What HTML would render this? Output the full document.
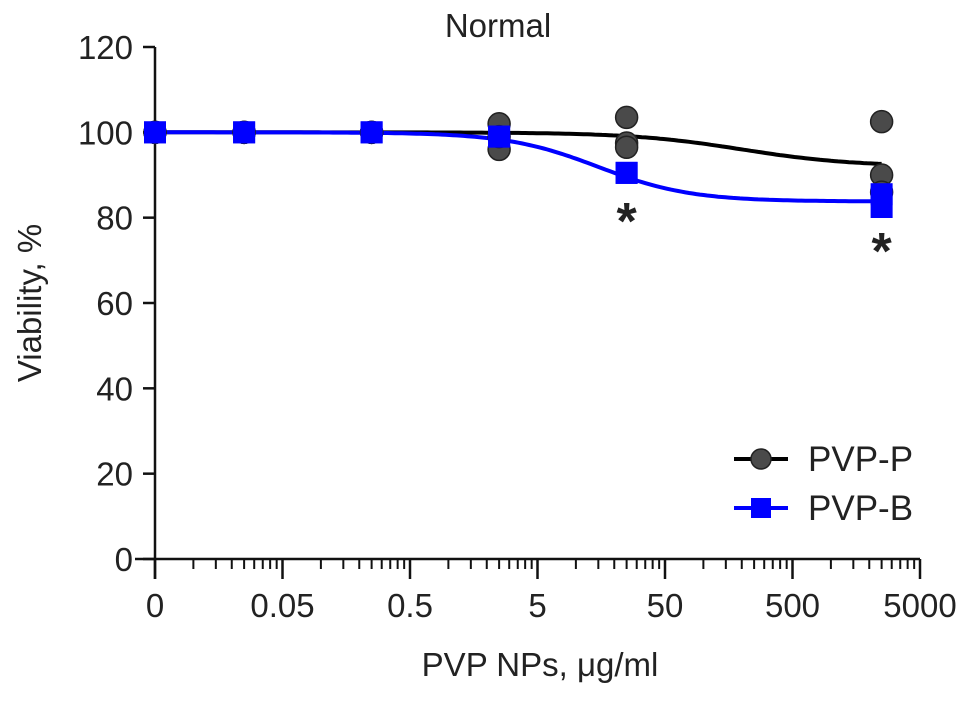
<!DOCTYPE html>
<html><head><meta charset="utf-8"><style>
body{margin:0;background:#fff}
svg text{font-family:"Liberation Sans",sans-serif;fill:#222}
</style></head><body>
<svg id="chart" width="969" height="696" viewBox="0 0 969 696">
<text x="498" y="37" font-size="33" text-anchor="middle">Normal</text>
<text transform="translate(41,303) rotate(-90)" font-size="33" text-anchor="middle">Viability, %</text>
<text x="540" y="676" font-size="33" text-anchor="middle">PVP NPs, μg/ml</text>
<g id="axes"></g>
<g id="curves"></g>
<g id="points"></g>
<g id="legend">
<line x1="734" y1="459" x2="788" y2="459" stroke="#000" stroke-width="4"/>
<circle cx="761" cy="459" r="10" fill="#4a4a4a" stroke="#222" stroke-width="1.5"/>
<text x="808" y="471" font-size="35">PVP-P</text>
<line x1="734" y1="508" x2="788" y2="508" stroke="#0000ff" stroke-width="4"/>
<rect x="751" y="498" width="20" height="20" fill="#0000ff"/>
<text x="808" y="520" font-size="35">PVP-B</text>
</g>
</svg>
<script>
const xTickValues=[0.005,0.05,0.5,5,50,500,5000];
const xTickLabels=["0","0.05","0.5","5","50","500","5000"];
const yTickValues=[0,20,40,60,80,100,120];
const doses=[0.005,0.025,0.25,2.5,25,2500];
const pvpP=[[100,100,100],[100,100,100],[100,100,100],[102,96,99],[103.5,97.5,96.5],[102.5,90,86]];
const pvpB=[[100,100],[100,100],[100,100],[99,99],[90.5,90.5],[85.5,82.5]];
const curveP=[100,92,200,1.0]; // top,bottom,ec50,hill
const curveB=[100,83.8,15,1.2];
const sigX=[25,2500];
const sigY=[82,75];
const NS="http://www.w3.org/2000/svg";
const X0=155,X1=920,Y0=559,Y1=47;
const xs=v=>X0+(Math.log10(v)-Math.log10(0.005))/(Math.log10(5000)-Math.log10(0.005))*(X1-X0);
const ys=v=>Y0-(v/120)*(Y0-Y1);
function mk(tag,attrs,parent){const e=document.createElementNS(NS,tag);for(const k in attrs)e.setAttribute(k,attrs[k]);parent.appendChild(e);return e;}
const axes=document.getElementById('axes');
const xa=mk('line',{x1:X0-20,y1:Y0,x2:X1,y2:Y0,stroke:'#111','stroke-width':2.5},axes);


const ya=mk('line',{x1:X0,y1:Y1,x2:X0,y2:Y0+20,stroke:'#111','stroke-width':2.5},axes);


yTickValues.forEach(v=>{
 mk('line',{x1:X0-12,y1:ys(v),x2:X0,y2:ys(v),stroke:'#111','stroke-width':2.5},axes);
 const t=mk('text',{x:X0-22,y:ys(v)+12,'font-size':33,'text-anchor':'end'},axes);t.textContent=v;
 
 
});
xTickValues.forEach((v,i)=>{
 mk('line',{x1:xs(v),y1:Y0,x2:xs(v),y2:Y0+20,stroke:'#111','stroke-width':2.5},axes);
 const t=mk('text',{x:xs(v),y:Y0+58,'font-size':33,'text-anchor':'middle'},axes);t.textContent=xTickLabels[i];
 
 
 if(i<xTickValues.length-1){for(let k=2;k<=9;k++){const m=v*k;mk('line',{x1:xs(m),y1:Y0,x2:xs(m),y2:Y0+10,stroke:'#111','stroke-width':2},axes);}}
});
function curve(p,color,name){
 let d='';const lo=Math.log10(0.005),hi=Math.log10(2500);
 for(let i=0;i<=200;i++){const lx=lo+(hi-lo)*i/200;const x=Math.pow(10,lx);
  const y=p[1]+(p[0]-p[1])/(1+Math.pow(x/p[2],p[3]));d+=(i?'L':'M')+xs(x).toFixed(1)+','+ys(y).toFixed(1);}
 const e=mk('path',{d:d,fill:'none',stroke:color,'stroke-width':4},document.getElementById('curves'));
 
 
}
curve(curveP,'#000','curve-pvp-p');
curve(curveB,'#0000ff','curve-pvp-b');
const pts=document.getElementById('points');
pvpP.forEach((arr,i)=>arr.forEach(v=>{
 const c=mk('circle',{cx:xs(doses[i]),cy:ys(v),r:11,fill:'#4a4a4a',stroke:'#222','stroke-width':1.5},pts);
 
 
}));
pvpB.forEach((arr,i)=>arr.forEach(v=>{
 const r=mk('rect',{x:xs(doses[i])-11,y:ys(v)-11,width:22,height:22,fill:'#0000ff'},pts);
 
 
}));
sigX.forEach((x,i)=>{
 const t=mk('text',{x:xs(x),y:ys(sigY[i])+30,'font-size':52,'font-weight':'bold','text-anchor':'middle'},pts);
 t.textContent='*';
 
 
});
</script>
</body></html>
